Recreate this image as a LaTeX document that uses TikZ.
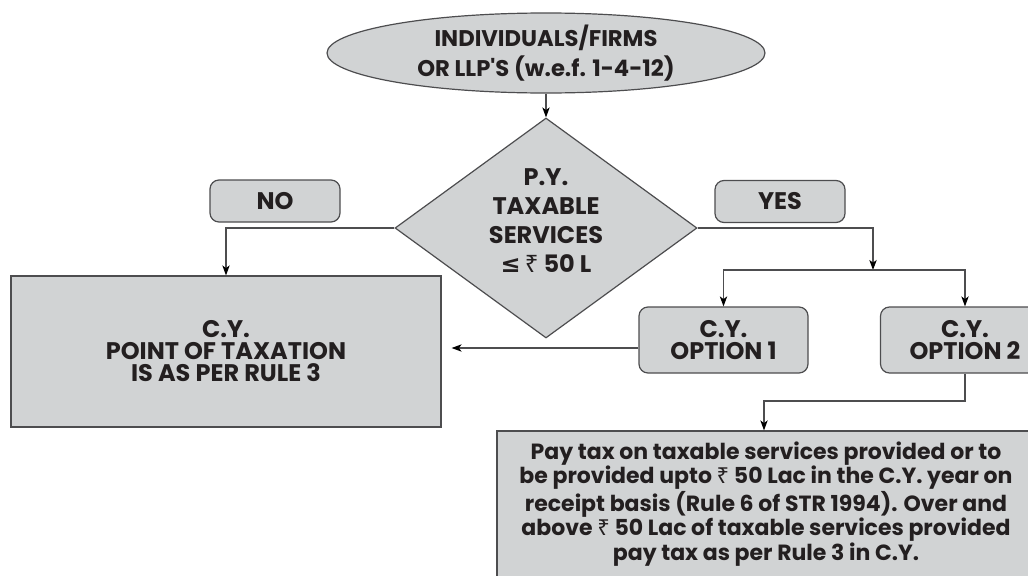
\documentclass[tikz,border=0pt]{standalone}
\usepackage{fontspec}
\setmainfont{Poppins}
\newfontfamily\symf{DejaVu Sans}
\newfontfamily\rupf{Noto Sans}
\usetikzlibrary{shapes.geometric,arrows.meta}
\definecolor{boxfill}{HTML}{D1D3D4}
\definecolor{edge}{HTML}{4D4D4F}
\definecolor{ink}{HTML}{231F20}
\newcommand{\rup}{{\rupf\mdseries ₹}}
\newcommand{\leqs}{{\symf ≤}}
\begin{document}
\begin{tikzpicture}[x=0.75pt,y=-0.75pt,
  base/.style={draw=edge, fill=boxfill, line width=0.9pt, text=ink, inner sep=0pt, align=center, font=\bfseries\fontsize{18}{16.5}\selectfont},
  rbox/.style={base, rounded corners=6.75pt},
  sbox/.style={base},
  arr/.style={draw=edge, line width=0.9pt, -{Stealth[length=7.5pt,width=5.5pt,inset=2pt,color=black]}}]
\useasboundingbox (0,0) rectangle (1028,575);
\clip (0,0) rectangle (1028,575);

\node[base, ellipse, minimum width=328.5pt, minimum height=60pt, font=\bfseries\fontsize{17}{22.5}\selectfont] (top) at (546,53) {INDIVIDUALS/FIRMS\\OR LLP\textquotesingle S (w.e.f. 1-4-12)};

\node[base, diamond, aspect=1.37, minimum width=226.5pt, minimum height=165pt] (dec) at (546,228) {};
\node[text=ink, align=center, inner sep=0pt, font=\bfseries\fontsize{18}{21.75}\selectfont] (dectxt) at (546,221) {P.Y.\\TAXABLE\\SERVICES\\\leqs\,\rup\ 50 L};

\node[rbox, minimum width=97.5pt, minimum height=31.5pt] (no) at (275,201) {NO};
\node[rbox, minimum width=97.5pt, minimum height=31.5pt] (yes) at (780,201.5) {YES};

\node[sbox, minimum width=322.5pt, minimum height=113.25pt] (cyr) at (226,351.5) {C.Y.\\POINT OF TAXATION\\IS AS PER RULE 3};

\node[rbox, minimum width=126.75pt, minimum height=49.5pt] (op1) at (723.5,340) {C.Y.\\OPTION 1};
\node[rbox, minimum width=126.75pt, minimum height=49.5pt] (op2) at (965,340) {C.Y.\\OPTION 2};

\node[sbox, minimum width=403.5pt, minimum height=109.5pt, font=\bfseries\fontsize{16.5}{16.5}\selectfont] (pay) at (766,504) {Pay tax on taxable services provided or to\\be provided upto \rup\ 50 Lac in the C.Y. year on\\receipt basis (Rule 6 of STR 1994). Over and\\above \rup\ 50 Lac of taxable services provided\\pay tax as per Rule 3 in C.Y.};

\coordinate (br) at (873,270);
\coordinate (bend) at (764,401);

\draw[arr] (top.south) -- (dec.north);
\draw[arr] (dec.west) -| (cyr.north);
\draw[arr] (dec.east) -| (br);
\draw[arr] (br) -| (op1.north);
\draw[arr] (br) -| (op2.north);
\draw[arr, shorten >=7.5pt] ([yshift=-6pt]op1.west) -- ([yshift=-6pt]op1.west -| cyr.east);
\draw[arr] (op2.south) |- (bend) -- (bend |- pay.north);
\end{tikzpicture}
\end{document}
